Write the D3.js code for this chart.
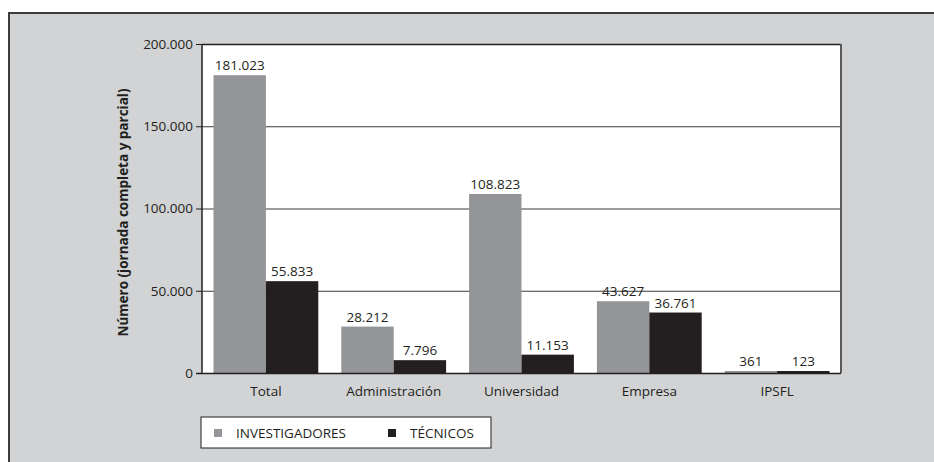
<!DOCTYPE html>
<html>
<head>
<meta charset="utf-8">
<script src="https://cdn.jsdelivr.net/npm/d3@7"></script>
<style>
	body { margin: 0; background: #ffffff; }
	svg { display: block; font-family: "Open Sans", "Noto Sans", sans-serif; }
</style>
</head>
<body>
<div class="svg-container"></div>
<script>
(function () {

	"use strict";

	// data
	var sectors = ["Total", "Administración", "Universidad", "Empresa", "IPSFL"];
	var investigadores = [181023, 28212, 108823, 43627, 361];
	var tecnicos = [55833, 7796, 11153, 36761, 123];
	var series_names = ["INVESTIGADORES", "TÉCNICOS"];
	var y_ticks = [0, 50000, 100000, 150000, 200000];

	var colors = ["#939598", "#231f20"];

	var fmt = function (v) {
		return d3.format(",")(v).replace(/,/g, ".");
	};

	var width = 934,
		height = 462;

	var plot = { left: 202, right: 841, top: 44, bottom: 373 };

	var svg = d3.select(".svg-container").append("svg")
		.attr("width", width)
		.attr("height", height);

	// outer panel
	svg.append("rect")
		.attr("x", 9)
		.attr("y", 13)
		.attr("width", width + 10)
		.attr("height", height + 10)
		.attr("fill", "#d1d3d4")
		.attr("stroke", "#3c3c3c")
		.attr("stroke-width", 2);

	var x = d3.scaleBand()
		.domain(sectors)
		.range([plot.left, plot.right])
		.paddingInner(0.18)
		.paddingOuter(0.09);

	var xs = d3.scaleBand()
		.domain([0, 1])
		.range([0, x.bandwidth()]);

	var y = d3.scaleLinear()
		.domain([0, 200000])
		.range([plot.bottom, plot.top]);

	// plot background
	svg.append("rect")
		.attr("x", plot.left)
		.attr("y", plot.top)
		.attr("width", plot.right - plot.left)
		.attr("height", plot.bottom - plot.top)
		.attr("fill", "#ffffff");

	// gridlines
	svg.append("g")
		.selectAll("line")
		.data(y_ticks.slice(1))
		.enter()
		.append("line")
		.attr("x1", plot.left)
		.attr("x2", plot.right)
		.attr("y1", function (d) { return y(d) + 0.5; })
		.attr("y2", function (d) { return y(d) + 0.5; })
		.attr("stroke", function (d) { return d === 200000 ? "#231f20" : "#3a3a3a"; })
		.attr("stroke-width", function (d) { return d === 200000 ? 1.5 : 1; });

	// right border
	svg.append("line")
		.attr("x1", plot.right)
		.attr("x2", plot.right)
		.attr("y1", plot.top)
		.attr("y2", plot.bottom)
		.attr("stroke", "#5a5a5a")
		.attr("stroke-width", 2);

	// bars
	var rows = sectors.map(function (s, i) {
		return { sector: s, values: [investigadores[i], tecnicos[i]] };
	});

	var groups = svg.selectAll(".group")
		.data(rows)
		.enter()
		.append("g")
		.attr("class", "group")
		.attr("transform", function (d) { return "translate(" + x(d.sector) + ",0)"; });

	// thin bars get a hairline so they stay visible, as in the print
	groups.selectAll("rect")
		.data(function (d) { return d.values; })
		.enter()
		.append("rect")
		.attr("x", function (d, i) { return xs(i); })
		.attr("width", xs.bandwidth())
		.attr("y", function (d) { return Math.min(y(d), plot.bottom - 2); })
		.attr("height", function (d) { return Math.max(plot.bottom - y(d), 2); })
		.attr("fill", function (d, i) { return colors[i]; });

	groups.selectAll("text")
		.data(function (d) { return d.values; })
		.enter()
		.append("text")
		.attr("x", function (d, i) { return xs(i) + xs.bandwidth() / 2; })
		.attr("y", function (d) { return Math.min(y(d), plot.bottom - 2) - 5; })
		.attr("text-anchor", "middle")
		.attr("font-size", "13.5px")
		.attr("fill", "#231f20")
		.text(fmt);

	// y axis
	var yAxis = d3.axisLeft(y)
		.tickValues(y_ticks)
		.tickSize(6)
		.tickFormat(fmt);

	var gy = svg.append("g")
		.attr("transform", "translate(" + plot.left + ",0)")
		.call(yAxis);
	gy.select(".domain").remove();
	gy.selectAll(".tick line").attr("stroke", "#231f20");
	gy.selectAll(".tick text")
		.attr("font-size", "13.5px")
		.attr("font-family", "\"Open Sans\", sans-serif")
		.attr("fill", "#231f20")
		.attr("x", -9);

	svg.append("line")
		.attr("x1", plot.left)
		.attr("x2", plot.left)
		.attr("y1", plot.top)
		.attr("y2", plot.bottom)
		.attr("stroke", "#231f20")
		.attr("stroke-width", 1.5);

	// x axis
	var xAxis = d3.axisBottom(x).tickSize(0).tickPadding(13);
	var gx = svg.append("g")
		.attr("transform", "translate(0," + plot.bottom + ")")
		.call(xAxis);
	gx.select(".domain")
		.attr("d", "M" + (plot.left - 6) + ",0.5H" + plot.right)
		.attr("stroke", "#231f20")
		.attr("stroke-width", 1.5);
	gx.selectAll(".tick text")
		.attr("font-size", "13.5px")
		.attr("font-family", "\"Open Sans\", sans-serif")
		.attr("fill", "#231f20");

	// y title
	svg.append("text")
		.attr("transform", "translate(128," + ((plot.top + plot.bottom) / 2 + 4) + ") rotate(-90)")
		.attr("text-anchor", "middle")
		.attr("font-size", "13.5px")
		.attr("font-weight", "bold")
		.attr("fill", "#231f20")
		.text("Número (jornada completa y parcial)");

	// legend
	var legend = svg.append("g")
		.attr("transform", "translate(201,417)");

	legend.append("rect")
		.attr("width", 290)
		.attr("height", 31)
		.attr("fill", "#ffffff")
		.attr("stroke", "#231f20")
		.attr("stroke-width", 1);

	var legend_x = [13, 187];

	var items = legend.selectAll(".item")
		.data(series_names)
		.enter()
		.append("g")
		.attr("class", "item")
		.attr("transform", function (d, i) { return "translate(" + legend_x[i] + ",0)"; });

	items.append("rect")
		.attr("y", 12)
		.attr("width", 8)
		.attr("height", 8)
		.attr("fill", function (d, i) { return colors[i]; });

	items.append("text")
		.attr("x", 22)
		.attr("y", 20.5)
		.attr("font-size", "13.5px")
		.attr("fill", "#231f20")
		.text(function (d) { return d; });

})();
</script>
</body>
</html>
